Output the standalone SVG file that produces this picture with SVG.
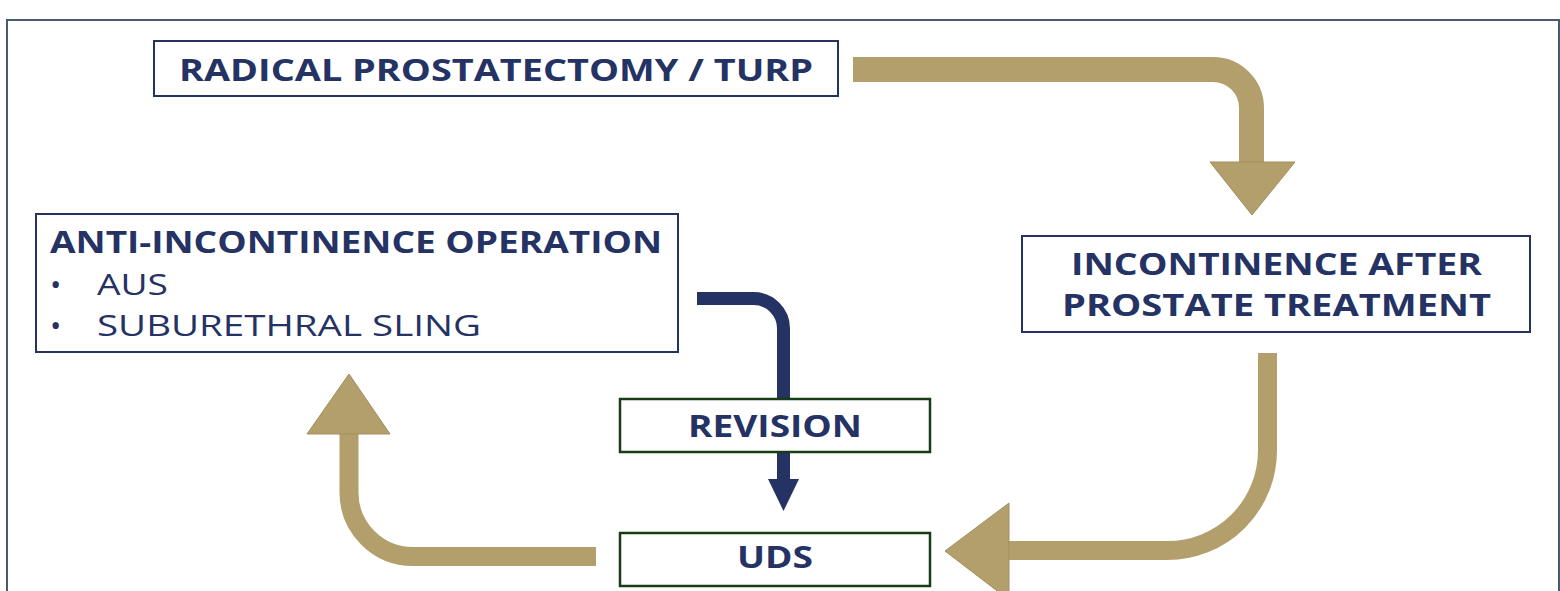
<svg xmlns="http://www.w3.org/2000/svg" width="1560" height="591" viewBox="0 0 1560 591">
<style>
.frame{fill:#fff;stroke:#4b5a73;stroke-width:2}
.nbox{fill:#fff;stroke:#253264;stroke-width:2}
.gbox{fill:#fff;stroke:#173d17;stroke-width:2.5}
.t{font-family:"Open Sans","Liberation Sans",sans-serif;font-size:31px;font-weight:bold;fill:#253264}
.r{font-family:"Open Sans","Liberation Sans",sans-serif;font-size:30px;font-weight:normal;fill:#253264}
.gold{fill:none;stroke:#b29f6c;stroke-width:25}
.goldh{fill:#b29f6c;stroke:#a38f5d;stroke-width:1}
.navy{fill:none;stroke:#253264;stroke-width:13}
.navyh{fill:#253264}
</style>
<rect x="0" y="0" width="1560" height="591" fill="#fff"/>
<rect class="frame" x="7" y="20" width="1552" height="600"/>
<g id="connectors">
<path class="gold" d="M853 69.5 H1213 A38.5 38.5 0 0 1 1251.5 108 V164"/>
<polygon class="goldh" points="1210,162 1295,162 1252,215"/>
<path class="gold" style="stroke-width:19" d="M1267.5 353 V450.5 A100 100 0 0 1 1167.5 550.5 H1006"/>
<polygon class="goldh" points="1009,503 1009,600 945,551"/>
<path class="gold" style="stroke-width:19" d="M596 556.5 H413 A64 64 0 0 1 349 492.5 V432"/>
<polygon class="goldh" points="307,434 390,434 349,374"/>
<path class="navy" d="M697 298.5 H753.5 A30 30 0 0 1 783.5 328.5 V481"/>
<polygon class="navyh" points="768,479 799,479 783.5,511"/>
</g>
<g id="node-rp">
<rect class="nbox" x="154" y="41" width="684" height="55"/>
<text class="t" x="496" y="81" text-anchor="middle" textLength="634" lengthAdjust="spacingAndGlyphs">RADICAL PROSTATECTOMY / TURP</text>
</g>
<g id="node-incont">
<rect class="nbox" x="1022" y="236" width="508" height="96"/>
<text class="t" x="1276.5" y="275" text-anchor="middle" textLength="411" lengthAdjust="spacingAndGlyphs">INCONTINENCE AFTER</text>
<text class="t" x="1276.5" y="316" text-anchor="middle" textLength="429" lengthAdjust="spacingAndGlyphs">PROSTATE TREATMENT</text>
</g>
<g id="node-anti">
<rect class="nbox" x="36" y="214" width="642" height="138"/>
<text class="t" x="50" y="253" textLength="612" lengthAdjust="spacingAndGlyphs">ANTI-INCONTINENCE OPERATION</text>
<text class="r" x="50" y="295">•</text>
<text class="r" x="97" y="295" textLength="71" lengthAdjust="spacingAndGlyphs">AUS</text>
<text class="r" x="50" y="336">•</text>
<text class="r" x="97" y="336" textLength="384" lengthAdjust="spacingAndGlyphs">SUBURETHRAL SLING</text>
</g>
<g id="node-revision">
<rect class="gbox" x="620" y="399" width="310" height="53"/>
<text class="t" x="775" y="437" text-anchor="middle" textLength="174" lengthAdjust="spacingAndGlyphs">REVISION</text>
</g>
<g id="node-uds">
<rect class="gbox" x="620" y="533" width="310" height="53"/>
<text class="t" x="775" y="568" text-anchor="middle" textLength="76" lengthAdjust="spacingAndGlyphs">UDS</text>
</g>
</svg>
